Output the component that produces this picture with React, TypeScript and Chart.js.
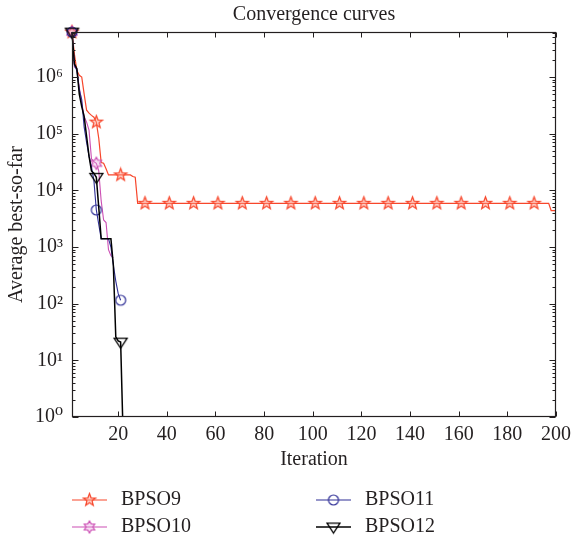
import React, { useEffect, useRef } from 'react';
import { Chart, registerables } from 'chart.js';

Chart.register(...registerables);

const TITLE = 'Convergence curves';
const X_LABEL = 'Iteration';
const Y_LABEL = 'Average best-so-far';
const X_TICKS = [20, 40, 60, 80, 100, 120, 140, 160, 180, 200];
const Y_TICKS = [1, 10, 100, 1e3, 1e4, 1e5, 1e6];
const Y_TICK_LABELS = ['10⁰', '10¹', '10²', '10³', '10⁴', '10⁵', '10⁶'];
const X_MIN = 1;
const X_MAX = 200;
const Y_MIN = 1;
const Y_MAX = 6.22e6;
const SERIES_NAMES = ['BPSO9', 'BPSO10', 'BPSO11', 'BPSO12'];

const ITER_BPSO9 = [1, 2, 3, 4, 5, 6, 7, 8, 9, 10, 11, 12, 13, 14, 15, 16, 21, 25, 26, 27, 28, 31, 41, 51, 61, 71, 81, 91, 101, 111, 121, 131, 141, 151, 161, 171, 181, 191, 197, 198, 200];
const BPSO9 = [6.2e6, 2.5e6, 1.3e6, 1.07e6, 1.0e6, 5e5, 2.6e5, 2.3e5, 2.1e5, 1.95e5, 1.6e5, 8.3e4, 3.1e4, 3.0e4, 2.4e4, 1.87e4, 1.87e4, 1.87e4, 1.75e4, 1.7e4, 5.9e3, 5.9e3, 5.9e3, 5.9e3, 5.9e3, 5.9e3, 5.9e3, 5.9e3, 5.9e3, 5.9e3, 5.9e3, 5.9e3, 5.9e3, 5.9e3, 5.9e3, 5.9e3, 5.9e3, 5.9e3, 5.9e3, 4.4e3, 4.4e3];

const ITER_BPSO10 = [1, 2, 3, 4, 5, 6, 7, 8, 9, 10, 11, 12, 13, 14, 15, 16, 17, 18];
const BPSO10 = [6.2e6, 1.5e6, 1.4e6, 6.5e5, 3.5e5, 2.0e5, 1.6e5, 1.15e5, 3.6e4, 3.2e4, 3.0e4, 2.2e4, 6.5e3, 3.0e3, 2.7e3, 900, 700, 650];

const ITER_BPSO11 = [1, 2, 3, 4, 5, 6, 7, 8, 9, 10, 11, 12, 13, 14, 15, 16, 17, 18, 19, 20, 21];
const BPSO11 = [6.2e6, 1.6e6, 1.3e6, 6e5, 4e5, 1.3e5, 7e4, 4e4, 2.6e4, 1.5e4, 4.5e3, 2.5e3, 1.4e3, 1.4e3, 1.4e3, 1.4e3, 1.0e3, 480, 250, 150, 115];

const ITER_BPSO12 = [1, 2, 3, 4, 5, 6, 7, 8, 9, 10, 11, 12, 13, 14, 15, 16, 17, 18, 19, 20, 21, 22];
const BPSO12 = [6.2e6, 1.7e6, 1.4e6, 5e5, 3e5, 2e5, 9e4, 4e4, 2.2e4, 2e4, 1.7e4, 5e3, 1.4e3, 1.4e3, 1.4e3, 1.4e3, 1.4e3, 480, 26, 22, 21, 0.5];

const COLORS = ['#f7462b', '#cc4fb4', '#2e2e96', '#000000'];
const TEXT_COLOR = '#231f20';
const FONT_FAMILY = "'Liberation Serif', 'DejaVu Serif', serif";

function zip(xs: number[], ys: number[]) {
  return xs.map((x, i) => ({ x, y: ys[i] }));
}

function starCanvas(points: number, outer: number, inner: number, stroke: string, fill: string) {
  const s = Math.ceil(outer * 2 + 4);
  const c = document.createElement('canvas');
  c.width = s;
  c.height = s;
  const g = c.getContext('2d')!;
  g.translate(s / 2, s / 2);
  g.beginPath();
  for (let i = 0; i < points * 2; i++) {
    const r = i % 2 === 0 ? outer : inner;
    const ang = -Math.PI / 2 + (i * Math.PI) / points;
    g.lineTo(r * Math.cos(ang), r * Math.sin(ang));
  }
  g.closePath();
  g.fillStyle = fill;
  g.fill();
  g.strokeStyle = stroke;
  g.lineWidth = 1.2;
  g.stroke();
  return c;
}

function triCanvas(stroke: string, r: number) {
  const s = Math.ceil(r * 2 + 4);
  const c = document.createElement('canvas');
  c.width = s;
  c.height = s;
  const g = c.getContext('2d')!;
  g.translate(s / 2, s / 2);
  g.beginPath();
  g.moveTo(-r, -r * 0.6);
  g.lineTo(r, -r * 0.6);
  g.lineTo(0, r * 0.95);
  g.closePath();
  g.strokeStyle = stroke;
  g.lineWidth = 1.3;
  g.stroke();
  return c;
}

function circleCanvas(stroke: string, r: number) {
  const s = Math.ceil(r * 2 + 4);
  const c = document.createElement('canvas');
  c.width = s;
  c.height = s;
  const g = c.getContext('2d')!;
  g.beginPath();
  g.arc(s / 2, s / 2, r, 0, Math.PI * 2);
  g.strokeStyle = stroke;
  g.lineWidth = 1.2;
  g.stroke();
  return c;
}

export default function App() {
  const ref = useRef<HTMLCanvasElement | null>(null);

  useEffect(() => {
    const canvas = ref.current;
    if (!canvas) return;
    const markers = [
      starCanvas(5, 6.5, 2.7, COLORS[0], 'rgba(255,150,130,0.45)'),
      starCanvas(6, 6, 3.46, COLORS[1], 'rgba(230,160,220,0.35)'),
      circleCanvas(COLORS[2], 5),
      triCanvas(COLORS[3], 6.5),
    ];
    const markerRadius = (c: any) => {
      const raw = c.raw;
      return raw && (raw.x - 1) % 10 === 0 ? 5 : 0;
    };
    const mk = (i: number, xs: number[], ys: number[], width: number) => ({
      label: SERIES_NAMES[i],
      data: zip(xs, ys),
      borderColor: COLORS[i],
      backgroundColor: COLORS[i],
      borderWidth: width,
      pointStyle: markers[i],
      pointRadius: markerRadius,
      pointHoverRadius: markerRadius,
      tension: 0,
      order: 4 - i,
      clip: { left: 10, top: 10, right: 10, bottom: 0 },
    });

    const axesPlugin = {
      id: 'matlabAxes',
      afterDraw(chart: any) {
        const { ctx, chartArea: a, scales } = chart;
        const xs = scales.x;
        const ys = scales.y;
        ctx.save();
        ctx.strokeStyle = TEXT_COLOR;
        ctx.lineWidth = 1.2;
        const L = Math.round(a.left) + 0.5;
        const R = Math.round(a.right) - 0.5;
        const T = Math.round(a.top) + 0.5;
        const B = Math.round(a.bottom) - 0.5;
        ctx.strokeRect(L, T, R - L, B - T);
        ctx.beginPath();
        X_TICKS.forEach((v) => {
          const px = Math.round(xs.getPixelForValue(v)) + 0.5;
          ctx.moveTo(px, B);
          ctx.lineTo(px, B - 5);
          ctx.moveTo(px, T);
          ctx.lineTo(px, T + 5);
        });
        for (let e = 0; e <= 6; e++) {
          for (let m = 1; m <= 9; m++) {
            const v = m * Math.pow(10, e);
            if (v > Y_MAX) continue;
            const py = Math.round(ys.getPixelForValue(v)) + 0.5;
            const len = m === 1 ? 6 : 3;
            ctx.moveTo(L, py);
            ctx.lineTo(L + len, py);
            ctx.moveTo(R, py);
            ctx.lineTo(R - len, py);
          }
        }
        ctx.lineWidth = 1;
        ctx.stroke();

        // title
        ctx.fillStyle = TEXT_COLOR;
        ctx.font = `20px ${FONT_FAMILY}`;
        ctx.textAlign = 'center';
        ctx.textBaseline = 'middle';
        ctx.fillText(TITLE, (a.left + a.right) / 2, 15);

        // legend
        const items = [
          { i: 0, x: 72, y: 500 },
          { i: 1, x: 72, y: 527 },
          { i: 2, x: 316, y: 500 },
          { i: 3, x: 316, y: 527 },
        ];
        items.forEach(({ i, x, y }) => {
          ctx.strokeStyle = COLORS[i];
          ctx.lineWidth = i === 3 ? 1.5 : 1.2;
          ctx.beginPath();
          ctx.moveTo(x, y);
          ctx.lineTo(x + 35, y);
          ctx.stroke();
          const m = markers[i];
          ctx.drawImage(m, x + 17.5 - m.width / 2, y - m.height / 2);
          ctx.fillStyle = TEXT_COLOR;
          ctx.textAlign = 'left';
          ctx.textBaseline = 'middle';
          ctx.font = `20px ${FONT_FAMILY}`;
          ctx.fillText(SERIES_NAMES[i], x + 49, y);
        });
        ctx.restore();
      },
    };

    const chart = new Chart(canvas, {
      type: 'line',
      data: {
        datasets: [
          mk(0, ITER_BPSO9, BPSO9, 1.2),
          mk(1, ITER_BPSO10, BPSO10, 1.1),
          mk(2, ITER_BPSO11, BPSO11, 1.1),
          mk(3, ITER_BPSO12, BPSO12, 1.5),
        ] as any,
      },
      options: {
        animation: false,
        responsive: false,
        devicePixelRatio: 1,
        layout: { padding: { top: 32, left: 0, right: 17, bottom: 68 } },
        plugins: {
          legend: { display: false },
          tooltip: { enabled: false },
          title: { display: false },
        },
        scales: {
          x: {
            type: 'linear',
            min: X_MIN,
            max: X_MAX,
            grid: { display: false, drawTicks: false },
            border: { display: false },
            afterBuildTicks: (s: any) => {
              s.ticks = X_TICKS.map((v) => ({ value: v }));
            },
            afterFit: (s: any) => {
              s.height = 58;
            },
            ticks: {
              padding: 6,
              color: TEXT_COLOR,
              font: { family: FONT_FAMILY, size: 20 },
              maxRotation: 0,
              autoSkip: false,
              callback: (v: any) => String(v),
            },
            title: {
              display: true,
              text: X_LABEL,
              color: TEXT_COLOR,
              font: { family: FONT_FAMILY, size: 20, lineHeight: 1.2 },
              padding: { top: 0, bottom: 3 },
            },
          },
          y: {
            type: 'logarithmic',
            min: Y_MIN,
            max: Y_MAX,
            grid: { display: false, drawTicks: false },
            border: { display: false },
            afterBuildTicks: (s: any) => {
              s.ticks = Y_TICKS.map((v) => ({ value: v }));
            },
            afterFit: (s: any) => {
              s.width = 72;
            },
            ticks: {
              padding: 9,
              color: TEXT_COLOR,
              font: { family: FONT_FAMILY, size: 20 },
              autoSkip: false,
              callback: (_v: any, idx: number) => Y_TICK_LABELS[idx],
            },
            title: {
              display: true,
              text: Y_LABEL,
              color: TEXT_COLOR,
              font: { family: FONT_FAMILY, size: 20, lineHeight: 1.2 },
              padding: { top: 5, bottom: 0 },
            },
          },
        },
      } as any,
      plugins: [axesPlugin as any],
    });
    return () => chart.destroy();
  }, []);

  return (
    <div style={{ position: 'absolute', left: 0, top: 0, width: 577, height: 543, background: '#fff' }}>
      <canvas ref={ref} width={577} height={543} style={{ display: 'block', width: 577, height: 543 }} />
    </div>
  );
}
